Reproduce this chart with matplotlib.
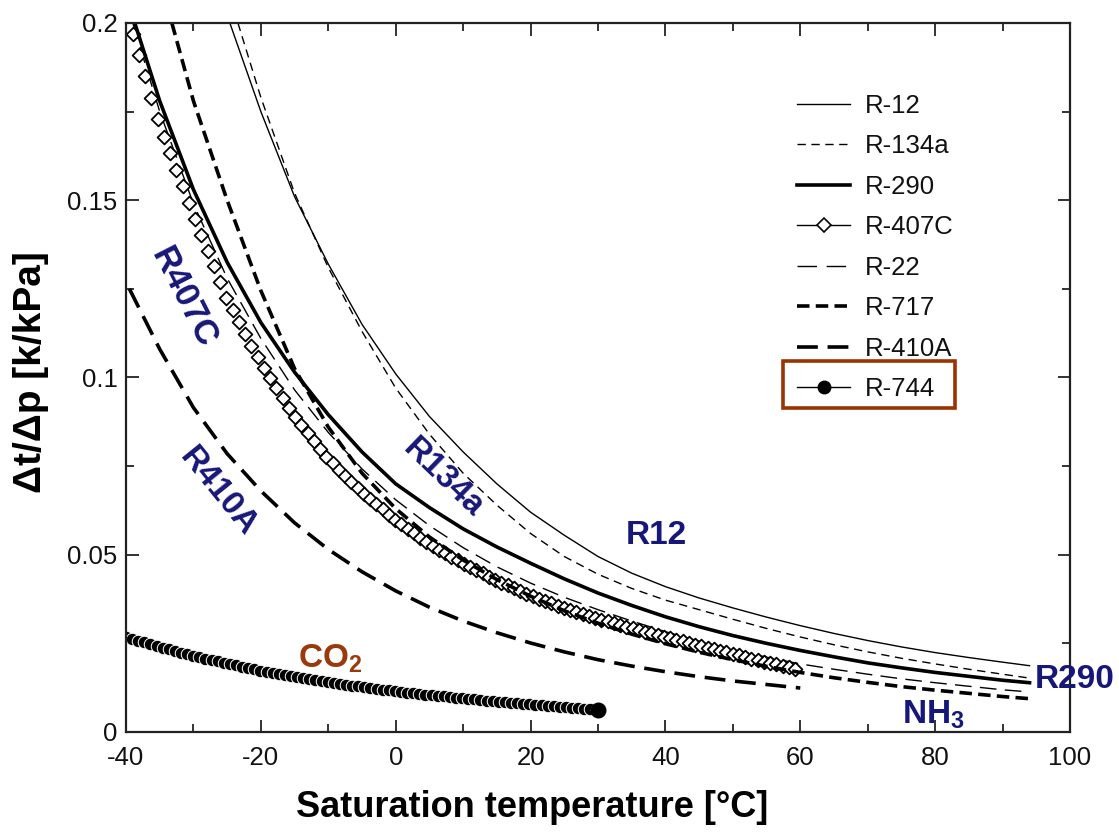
import numpy as np
import matplotlib
matplotlib.use("Agg")
import matplotlib.pyplot as plt
import matplotlib.colors as mcolors
from matplotlib.lines import Line2D
from matplotlib.markers import MarkerStyle
from matplotlib.path import Path
from matplotlib.patches import Rectangle
from matplotlib.patheffects import AbstractPathEffect
from matplotlib.transforms import Affine2D, IdentityTransform

plt.rcParams['font.family'] = ['Liberation Sans', 'DejaVu Sans']
plt.rcParams['mathtext.fontset'] = 'custom'
plt.rcParams['mathtext.rm'] = 'Liberation Sans'
plt.rcParams['mathtext.bf'] = 'Liberation Sans:bold'
plt.rcParams['lines.scale_dashes'] = False

# saturation temperature [C] -> dt/dp [K/kPa]
r12_t = [-24.6, -20, -15, -10, -5, 0, 5, 10, 15, 20, 25, 30, 35, 40, 45, 50, 55, 60, 65, 70, 75, 80, 85, 90, 94]
r12_v = [0.200, 0.175, 0.151, 0.132, 0.115, 0.101, 0.089, 0.079, 0.070, 0.062, 0.0555, 0.0495, 0.0448,
         0.0410, 0.0378, 0.0350, 0.0324, 0.0300, 0.0278, 0.0258, 0.0240, 0.0224, 0.0210, 0.0197, 0.0187]

r134a_t = [-23.4, -20, -15, -10, -5, 0, 5, 10, 15, 20, 25, 30, 35, 40, 45, 50, 55, 60, 65, 70, 75, 80, 85, 90, 94]
r134a_v = [0.200, 0.179, 0.152, 0.131, 0.113, 0.097, 0.084, 0.073, 0.064, 0.056, 0.0495, 0.0445, 0.0405,
           0.0372, 0.0345, 0.0318, 0.0292, 0.0268, 0.0246, 0.0226, 0.0208, 0.0192, 0.0177, 0.0163, 0.0152]

r290_t = [-38.7, -35, -30, -25, -20, -15, -10, -5, 0, 5, 10, 15, 20, 25, 30, 35, 40, 45, 50, 55, 60,
          65, 70, 75, 80, 85, 90, 94]
r290_v = [0.200, 0.178, 0.153, 0.1325, 0.1155, 0.1015, 0.0895, 0.0790, 0.0700, 0.0633, 0.0573, 0.0522,
          0.0476, 0.0432, 0.0392, 0.0357, 0.0325, 0.0297, 0.0272, 0.0250, 0.0230, 0.0212, 0.0195, 0.0181,
          0.0168, 0.0157, 0.0146, 0.0139]

r407c_t = [-39, -35, -30, -25, -20, -15, -10, -5, 0, 5, 10, 15, 20, 25, 30, 35, 40, 45, 50, 55, 60]
r407c_v = [0.197, 0.171, 0.146, 0.122, 0.104, 0.089, 0.077, 0.0675, 0.0598, 0.0530, 0.0475, 0.0427,
           0.0385, 0.0350, 0.0320, 0.0293, 0.0268, 0.0244, 0.0220, 0.0197, 0.0175]

r22_t = [-39, -35, -30, -25, -20, -15, -10, -5, 0, 5, 10, 15, 20, 25, 30, 35, 40, 45, 50, 55, 60,
         65, 70, 75, 80, 85, 90, 94]
r22_v = [0.200, 0.175, 0.149, 0.128, 0.111, 0.0965, 0.0845, 0.0742, 0.0655, 0.0582, 0.0520, 0.0466,
         0.0420, 0.0380, 0.0345, 0.0313, 0.0283, 0.0256, 0.0232, 0.0211, 0.0192, 0.0177, 0.0163, 0.0150,
         0.0139, 0.0129, 0.0119, 0.0113]

r717_t = [-33.2, -30, -25, -20, -15, -10, -5, 0, 5, 10, 15, 20, 25, 30, 35, 40, 45, 50, 55, 60,
          65, 70, 75, 80, 85, 90, 94]
r717_v = [0.200, 0.178, 0.150, 0.1245, 0.1025, 0.0860, 0.0730, 0.0630, 0.0550, 0.0485, 0.0430, 0.0383,
          0.0342, 0.0307, 0.0276, 0.0249, 0.0225, 0.0204, 0.0185, 0.0168, 0.0153, 0.0140, 0.0128, 0.0118,
          0.0109, 0.0100, 0.0094]

r410a_t = [-39.5, -35, -30, -25, -20, -15, -10, -5, 0, 5, 10, 15, 20, 25, 30, 35, 40, 45, 50, 55, 60]
r410a_v = [0.125, 0.108, 0.0915, 0.0785, 0.0680, 0.0590, 0.0515, 0.0452, 0.0398, 0.0352, 0.0313, 0.0280,
           0.0251, 0.0226, 0.0204, 0.0186, 0.0170, 0.0156, 0.0144, 0.0134, 0.0124]

co2_t = [-40, -35, -30, -25, -20, -15, -10, -5, 0, 5, 10, 15, 20, 25, 30]
co2_v = [0.0268, 0.0240, 0.0215, 0.0193, 0.0173, 0.0156, 0.0141, 0.0127, 0.0115, 0.0104, 0.0095,
         0.0086, 0.0078, 0.0070, 0.0062]

legend_labels = ['R-12', 'R-134a', 'R-290', 'R-407C', 'R-22', 'R-717', 'R-410A', 'R-744']
xtick_vals = [-40, -20, 0, 20, 40, 60, 80, 100]
xtick_labels = ['-40', '-20', '0', '20', '40', '60', '80', '100']
xtick_minor = [-30, -10, 10, 30, 50, 70, 90]
ytick_vals = [0, 0.05, 0.1, 0.15, 0.2]
ytick_labels = ['0', '0.05', '0.1', '0.15', '0.2']
ytick_minor = [0.025, 0.075, 0.125, 0.175]

navy = '#17177a'
brown = '#9a3a0c'


class MarkerTrail(AbstractPathEffect):
    # line style: stamps a symbol every `step` pt of screen x along the drawn line,
    # like the densely sampled symbols of the original figure
    def __init__(self, marker, size, step, face, edge, ew):
        super().__init__()
        self.marker = MarkerStyle(marker)
        self.size = size
        self.step = step
        self.face = mcolors.to_rgba(face)
        self.edge = edge
        self.ew = ew

    def draw_path(self, renderer, gc, tpath, affine, rgbFace=None):
        xy = affine.transform(tpath.vertices)
        step = renderer.points_to_pixels(self.step)
        xs = np.arange(xy[0, 0], xy[-1, 0], step)
        ys = np.interp(xs, xy[:, 0], xy[:, 1])
        size = renderer.points_to_pixels(self.size)
        mtrans = self.marker.get_transform() + Affine2D().scale(size)
        gc0 = renderer.new_gc()
        gc0.copy_properties(gc)
        gc0.set_dashes(0, None)
        gc0.set_linewidth(self.ew)
        gc0.set_foreground(self.edge)
        renderer.draw_markers(gc0, self.marker.get_path(), mtrans,
                              Path(np.column_stack([xs, ys])), IdentityTransform(), self.face)
        gc0.restore()


fig = plt.figure(figsize=(11.19, 8.32), dpi=100)
ax = fig.add_axes([0.1126, 0.1202, 0.8436, 0.8522])

ax.plot(r12_t, r12_v, color='k', lw=1.0)
ax.plot(r134a_t, r134a_v, color='k', lw=1.0, dashes=(6, 4))
ax.plot(r22_t, r22_v, color='k', lw=1.0, dashes=(12, 6))
ax.plot(r407c_t, r407c_v, color='k', lw=1.0,
        path_effects=[MarkerTrail('D', 7.0, 4.5, 'white', 'black', 1.3)])
ax.plot(r290_t, r290_v, color='k', lw=2.6)
ax.plot(r717_t, r717_v, color='k', lw=2.6, dashes=(9, 4.5))
ax.plot(r410a_t, r410a_v, color='k', lw=2.6, dashes=(15, 7))
ax.plot(co2_t, co2_v, color='k', lw=1.0,
        path_effects=[MarkerTrail('o', 9.0, 4.4, 'black', 'white', 0.7)])
ax.plot(co2_t[-1:], co2_v[-1:], 'o', color='k', ms=10.5)

ax.set_xlim(-40, 100)
ax.set_ylim(0, 0.2)
ax.set_xticks(xtick_vals, labels=xtick_labels)
ax.set_xticks(xtick_minor, minor=True)
ax.set_yticks(ytick_vals, labels=ytick_labels)
ax.set_yticks(ytick_minor, minor=True)
ax.tick_params(which='both', direction='in', top=True, right=True, width=1.3, color='#222222')
ax.tick_params(which='major', length=9)
ax.tick_params(which='minor', length=6)
ax.tick_params(axis='x', labelsize=18.5, pad=10, labelcolor='#111111')
ax.tick_params(axis='y', labelsize=18.5, pad=6, labelcolor='#111111')
for s in ax.spines.values():
    s.set_linewidth(1.6)
    s.set_color('#222222')

ax.set_xlabel('Saturation temperature [°C]', fontsize=26, fontweight='bold')
ax.xaxis.set_label_coords(0.43, -0.082)
ax.set_ylabel('Δt/Δp [k/kPa]', fontsize=28, fontweight='bold')
ax.yaxis.set_label_coords(-0.082, 0.508)

handles = [
    Line2D([], [], color='k', lw=1.0),
    Line2D([], [], color='k', lw=1.0, dashes=(6, 4)),
    Line2D([], [], color='k', lw=2.6),
    Line2D([], [], color='k', lw=1.0, marker='D', ms=7, mfc='white', mec='k', mew=1.2),
    Line2D([], [], color='k', lw=1.0, dashes=(14, 7)),
    Line2D([], [], color='k', lw=2.6, dashes=(9, 4.5)),
    Line2D([], [], color='k', lw=2.6, dashes=(15, 7)),
    Line2D([], [], color='k', lw=1.0, marker='o', ms=9),
]
leg = ax.legend(handles, legend_labels, loc='upper left', bbox_to_anchor=(0.711, 0.900),
                frameon=False, fontsize=18.5, handlelength=2.05, handletextpad=0.58,
                labelspacing=0.64, borderpad=0, borderaxespad=0)
for t in leg.get_texts():
    t.set_color('#111111')

ax.add_patch(Rectangle((0.696, 0.457), 0.182, 0.0663, transform=ax.transAxes, fill=False,
                       edgecolor='#993300', lw=2.6, clip_on=False))

lab = dict(color=navy, fontweight='bold', ha='center', va='center', rotation_mode='anchor')
ax.text(-31.5, 0.1225, 'R407C', rotation=-63, fontsize=25, **lab)
ax.text(-26.4, 0.0677, 'R410A', rotation=-51, fontsize=24, **lab)
ax.text(7.0, 0.0716, 'R134a', rotation=-44, fontsize=24, **lab)
ax.text(38.6, 0.0553, 'R12', fontsize=24, **lab)
ax.text(94.8, 0.0147, 'R290', color=navy, fontsize=24, fontweight='bold', ha='left', va='center')
ax.text(75.1, 0.0025, r'NH$_\mathbf{3}$', color=navy, fontsize=24, fontweight='bold',
        ha='left', va='baseline')
ax.text(-14.5, 0.0183, r'CO$_\mathbf{2}$', color=brown, fontsize=24, fontweight='bold',
        ha='left', va='baseline')

fig.savefig('out.png', dpi=100)
